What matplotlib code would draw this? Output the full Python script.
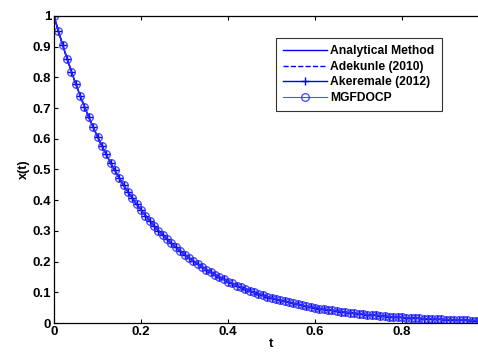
import numpy as np
import matplotlib
matplotlib.use('Agg')
import matplotlib.pyplot as plt

# time grid, step 0.01
t = np.linspace(0, 1, 101)

# x(t) (all four methods overlap)
x_vals = [1.000, 0.951, 0.905, 0.861, 0.819, 0.779, 0.741, 0.705, 0.670, 0.638,
          0.607, 0.577, 0.549, 0.522, 0.497, 0.472, 0.449, 0.427, 0.407, 0.387,
          0.368, 0.350, 0.333, 0.317, 0.301, 0.287, 0.273, 0.259, 0.247, 0.235,
          0.223, 0.212, 0.202, 0.192, 0.183, 0.174, 0.165, 0.157, 0.150, 0.142,
          0.135, 0.129, 0.122, 0.116, 0.111, 0.105, 0.100, 0.095, 0.091, 0.086,
          0.082, 0.078, 0.074, 0.071, 0.067, 0.064, 0.061, 0.058, 0.055, 0.052,
          0.050, 0.047, 0.045, 0.043, 0.041, 0.039, 0.037, 0.035, 0.033, 0.032,
          0.030, 0.029, 0.027, 0.026, 0.025, 0.024, 0.022, 0.021, 0.020, 0.019,
          0.018, 0.017, 0.017, 0.016, 0.015, 0.014, 0.014, 0.013, 0.012, 0.012,
          0.011, 0.011, 0.010, 0.010, 0.009, 0.009, 0.008, 0.008, 0.007, 0.007,
          0.007]

x_analytical = x_vals
x_adekunle = x_vals
x_akeremale = x_vals
x_mgfdocp = x_vals

xticks = [0, 0.2, 0.4, 0.6, 0.8]
xtick_labels = ['0', '0.2', '0.4', '0.6', '0.8']
yticks = [0, 0.1, 0.2, 0.3, 0.4, 0.5, 0.6, 0.7, 0.8, 0.9, 1.0]
ytick_labels = ['0', '0.1', '0.2', '0.3', '0.4', '0.5', '0.6', '0.7', '0.8', '0.9', '1']

plt.rcParams['font.family'] = ['Liberation Sans', 'DejaVu Sans']
plt.rcParams['font.weight'] = 'bold'

fig = plt.figure(figsize=(4.78, 3.53), dpi=100)
# axes run past the right edge (original image is cropped)
ax = fig.add_axes([54/478, 30/353, 435/478, 307/353])

ax.plot(t, x_analytical, color='#0000ee', lw=1.0, label='Analytical Method')
ax.plot(t, x_adekunle, color='#0000ee', lw=1.0, ls='--', label='Adekunle (2010)')
ax.plot(t, x_akeremale, color='#0000ee', lw=1.0, marker='+', ms=6, mew=1.0,
        label='Akeremale (2012)')
ax.plot(t, x_mgfdocp, color='#3333ff', lw=0.8, marker='o', ms=5.5, mfc='none',
        mew=1.0, alpha=0.85, label='MGFDOCP')

ax.set_xlim(0, 1)
ax.set_ylim(0, 1)
ax.set_xticks(xticks)
ax.set_xticklabels(xtick_labels)
ax.set_yticks(yticks)
ax.set_yticklabels(ytick_labels)
ax.tick_params(direction='in', top=True, right=True, labelsize=9.5, length=3,
               width=0.8, pad=2)
for s in ax.spines.values():
    s.set_linewidth(0.9)

ax.set_xlabel('t', fontsize=9.5, fontweight='bold', labelpad=0)
ax.set_ylabel('x(t)', fontsize=9, fontweight='bold', labelpad=2)

leg = ax.legend(loc='upper left', bbox_to_anchor=(222/435, 1 - 22/307),
                fontsize=8.7, handlelength=3.6, frameon=True, fancybox=False,
                edgecolor='black', borderpad=0.6, labelspacing=0.3,
                handletextpad=0.3, borderaxespad=0)
leg.get_frame().set_linewidth(0.8)

fig.savefig('out.png', dpi=100)
